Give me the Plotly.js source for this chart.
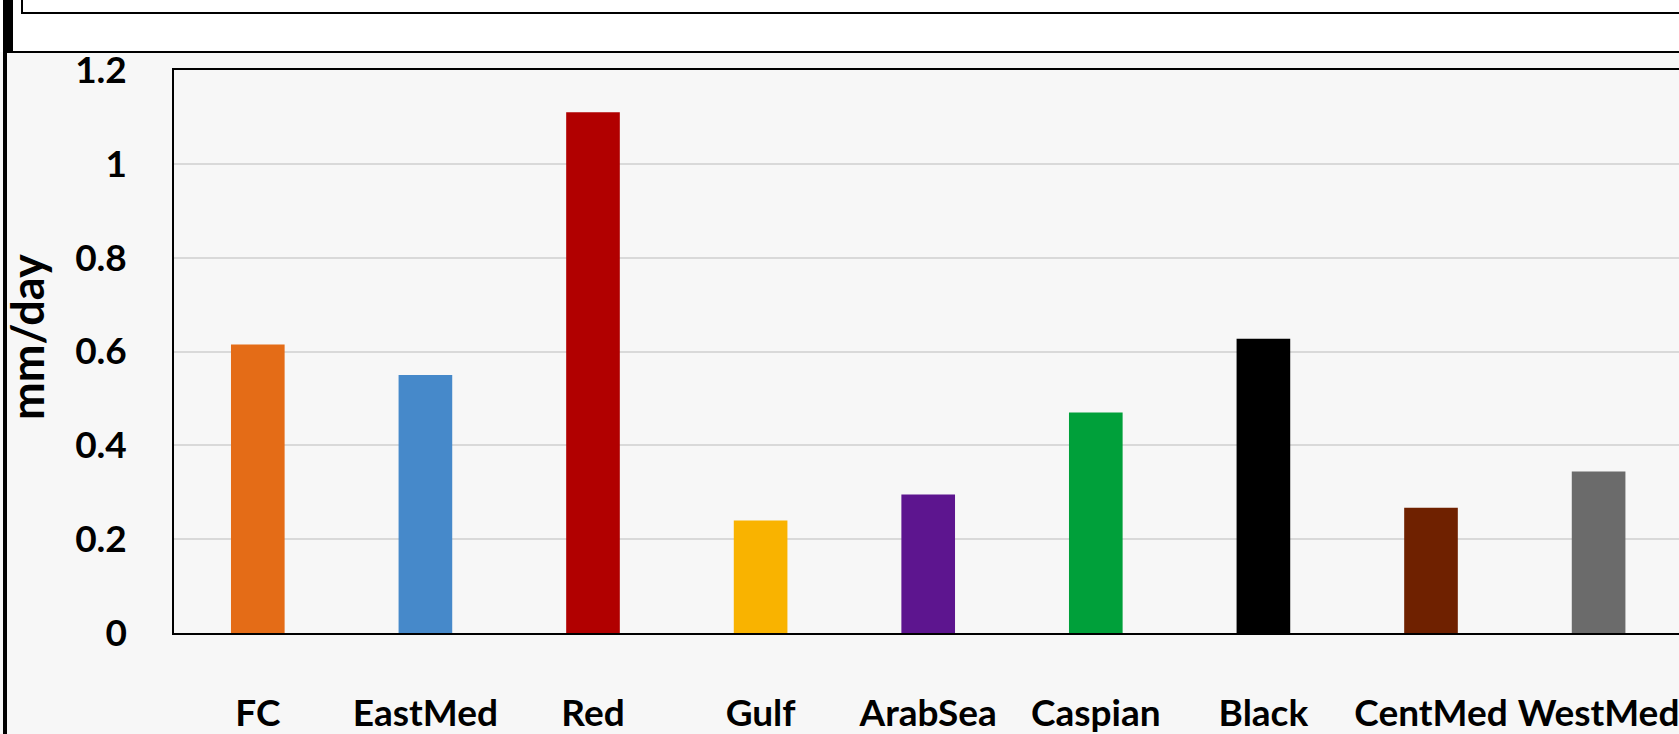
<!DOCTYPE html>
<html>
<head>
<meta charset="utf-8">
<script src="https://cdn.plot.ly/plotly-3.0.1.min.js"></script>
<style>
  html, body { margin: 0; padding: 0; background: #f7f7f7; overflow: hidden; }
  #wrap { position: relative; width: 1679px; height: 734px; overflow: hidden; }
  #chart { position: absolute; left: 0; top: 0; width: 1679px; height: 734px; }
  /* page furniture around the chart */
  .strip { position: absolute; left: 0; top: 0; width: 1679px; height: 52px; background: #ffffff; }
  .panel { position: absolute; left: 21px; top: -40px; width: 1700px; height: 50px; border: 2px solid #000; }
  .rule { position: absolute; left: 6px; top: 51px; width: 1680px; height: 2px; background: #000; }
  .edge { position: absolute; left: 3px; top: 0; width: 4px; height: 734px; background: #000; }
  .edge-top { position: absolute; left: 3px; top: 0; width: 10px; height: 52px; background: #000; }
</style>
</head>
<body>
<div id="wrap">
  <div id="chart"></div>
  <div class="strip"></div>
  <div class="panel"></div>
  <div class="rule"></div>
  <div class="edge"></div>
  <div class="edge-top"></div>
</div>
<script>
// Mean rate per basin (mm/day)
const regions = ['FC', 'EastMed', 'Red', 'Gulf', 'ArabSea', 'Caspian', 'Black', 'CentMed', 'WestMed'];
const rates = [0.615, 0.55, 1.11, 0.24, 0.295, 0.47, 0.627, 0.267, 0.344];
const barColors = ['#E46C17', '#4689CA', '#B10000', '#F9B300', '#5D158F', '#00A03A', '#000000', '#6F2100', '#6B6B6B'];
const yTickVals = [0, 0.2, 0.4, 0.6, 0.8, 1, 1.2];
const yTickText = ['0', '0.2', '0.4', '0.6', '0.8', '1', '1.2'];
const yTitle = 'mm/day';

const W = 1679, H = 734;
const M = { l: 174, r: 0, t: 70, b: 101 };
const plotW = W - M.l - M.r, plotH = H - M.t - M.b;
const px = x => (x - M.l) / plotW;          // page x -> paper x
const py = y => (H - M.b - y) / plotH;      // page y -> paper y

const fontFamily = 'Lato, "Open Sans", sans-serif';
const labelFont = { family: fontFamily, size: 37, color: '#000', weight: 700 };

const trace = {
  type: 'bar',
  x: regions,
  y: rates,
  marker: { color: barColors, line: { width: 0 } },
  hoverinfo: 'x+y'
};

const layout = {
  width: W,
  height: H,
  margin: M,
  paper_bgcolor: '#f7f7f7',
  plot_bgcolor: '#f7f7f7',
  showlegend: false,
  bargap: 0.68,
  xaxis: {
    type: 'category',
    range: [-0.5, -0.5 + plotW / 167.6],
    showline: true,
    mirror: true,
    linecolor: '#000',
    linewidth: 2,
    showgrid: false,
    zeroline: false,
    ticks: 'outside',
    ticklen: 47,
    tickcolor: 'rgba(0,0,0,0)',
    tickfont: labelFont
  },
  yaxis: {
    range: [0, 1.2],
    tickvals: yTickVals,
    ticktext: yTickText,
    showline: true,
    linecolor: '#000',
    linewidth: 1.5,
    showgrid: true,
    gridcolor: '#d9d9d9',
    gridwidth: 2,
    zeroline: false,
    ticks: 'outside',
    ticklen: 38,
    tickcolor: 'rgba(0,0,0,0)',
    tickfont: labelFont,
    automargin: false
  },
  annotations: [
    // y-axis title, set beside the tick labels
    { text: yTitle, xref: 'paper', yref: 'paper', x: px(27), y: py(337),
      xanchor: 'center', yanchor: 'middle', textangle: -90, showarrow: false,
      font: { family: fontFamily, size: 45, color: '#000', weight: 700 } }
  ]
};

Plotly.newPlot('chart', [trace], layout, { displayModeBar: false, responsive: false });
</script>
</body>
</html>
